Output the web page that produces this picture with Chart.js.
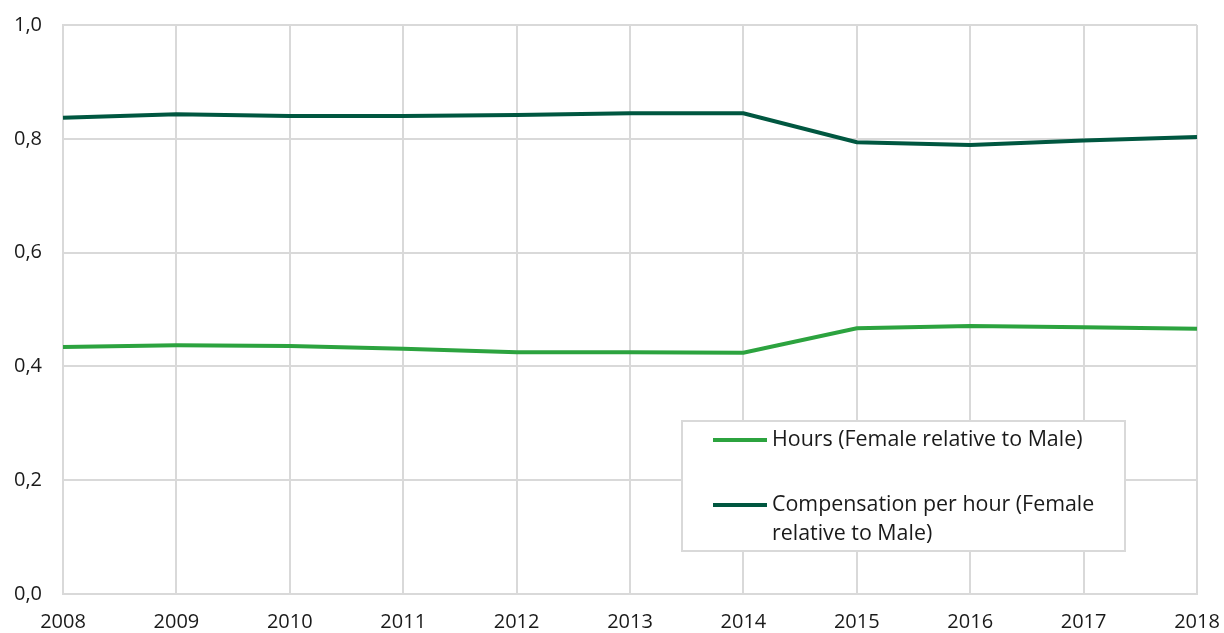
<!DOCTYPE html>
<html>
<head>
<meta charset="utf-8">
<script src="https://cdn.jsdelivr.net/npm/chart.js@4.4.0/dist/chart.umd.min.js"></script>
<style>
  html, body { margin: 0; padding: 0; background: #fff; }
  #wrap { width: 1224px; height: 633px; }
</style>
</head>
<body>
<div id="wrap"><canvas id="chart" width="1224" height="633"></canvas></div>
<script>
const years = ['2008', '2009', '2010', '2011', '2012', '2013', '2014', '2015', '2016', '2017', '2018'];

const hours = [0.434, 0.437, 0.436, 0.431, 0.425, 0.425, 0.424, 0.467, 0.471, 0.469, 0.466];
const compensation = [0.837, 0.843, 0.840, 0.840, 0.842, 0.845, 0.845, 0.794, 0.789, 0.797, 0.803];

const hoursLabel = 'Hours (Female relative to Male)';
const compLabel = ['Compensation per hour (Female', 'relative to Male)'];

const font = "'Open Sans', 'Noto Sans', sans-serif";
const gridColor = '#d9d9d9';

// legend box drawn inside the plot area
const boxLegend = {
    id: 'boxLegend',
    afterDraw(chart) {
        const ctx = chart.ctx;
        const x = 682, y = 421, w = 443, h = 130;
        ctx.save();
        ctx.fillStyle = '#fff';
        ctx.fillRect(x, y, w, h);
        ctx.strokeStyle = gridColor;
        ctx.lineWidth = 2;
        ctx.strokeRect(x, y, w, h);
        ctx.font = '21.4px ' + font;
        ctx.textBaseline = 'middle';
        ctx.fillStyle = '#1a1a1a';
        chart.data.datasets.forEach((ds, i) => {
            const ly = i === 0 ? 440 : 505;
            ctx.strokeStyle = ds.borderColor;
            ctx.lineWidth = 4;
            ctx.beginPath();
            ctx.moveTo(713, ly);
            ctx.lineTo(767, ly);
            ctx.stroke();
            const lines = Array.isArray(ds.label) ? ds.label : [ds.label];
            lines.forEach((t, j) => ctx.fillText(t, 772, ly + j * 29));
        });
        ctx.restore();
    }
};

new Chart(document.getElementById('chart'), {
    type: 'line',
    data: {
        labels: years,
        datasets: [
            {
                label: hoursLabel,
                data: hours,
                borderColor: '#2ca33f',
                borderWidth: 4,
                pointRadius: 0,
                tension: 0,
                fill: false
            },
            {
                label: compLabel,
                data: compensation,
                borderColor: '#005740',
                borderWidth: 4,
                pointRadius: 0,
                tension: 0,
                fill: false
            }
        ]
    },
    options: {
        responsive: false,
        animation: false,
        layout: { padding: { top: 25, right: 27, bottom: 0, left: 0 } },
        plugins: {
            legend: { display: false },
            tooltip: { enabled: false }
        },
        scales: {
            x: {
                offset: false,
                grid: { color: gridColor, lineWidth: 2, drawTicks: false },
                border: { color: gridColor, width: 2 },
                afterFit(scale) {
                    scale.height = 39;
                    scale.paddingLeft = 0;
                    scale.paddingRight = 0;
                },
                ticks: {
                    color: '#1a1a1a',
                    font: { family: font, size: 20 },
                    padding: 16,
                    maxRotation: 0,
                    autoSkip: false
                }
            },
            y: {
                min: 0,
                max: 1,
                grid: { color: gridColor, lineWidth: 2, drawTicks: false },
                border: { color: gridColor, width: 2 },
                afterFit(scale) {
                    scale.width = 63;
                    scale.paddingTop = 0;
                    scale.paddingBottom = 0;
                },
                ticks: {
                    stepSize: 0.2,
                    color: '#1a1a1a',
                    font: { family: font, size: 20 },
                    padding: 21,
                    callback: v => v.toFixed(1).replace('.', ',')
                }
            }
        }
    },
    plugins: [boxLegend]
});
</script>
</body>
</html>
